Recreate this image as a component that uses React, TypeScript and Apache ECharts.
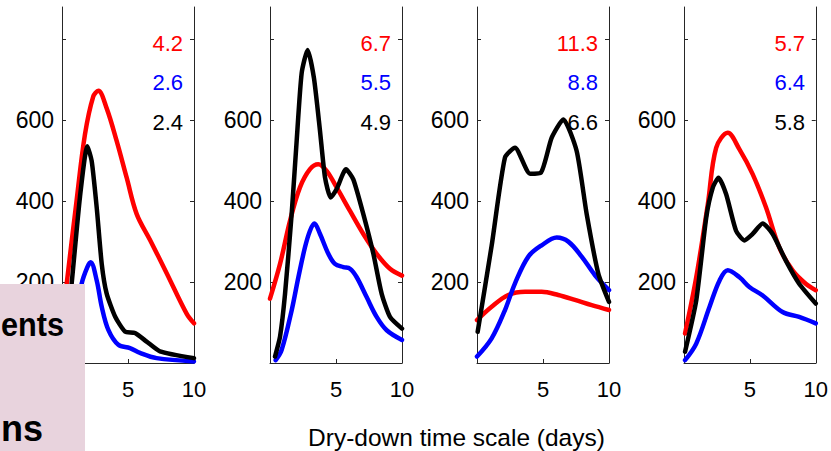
import React, { useEffect, useRef } from "react";
import * as echarts from "echarts";

// ---- tick labels ----
const xTickLabels = [5, 10];
const yTickLabels = [200, 400, 600];
const yTickValues = [0, 200, 400, 600, 800];

// ---- numbers printed in the top-right corner of each panel ----
const redNumbers = ["4.2", "6.7", "11.3", "5.7"];
const blueNumbers = ["2.6", "5.5", "8.8", "6.4"];
const blackNumbers = ["2.4", "4.9", "6.6", "5.8"];

// ---- texts ----
const xTitle = "Dry-down time scale (days)";
const boxTexts = ["ents", "ns"];

// ---- series: [day, value] ----
const p1Red = [[0, 90], [0.36, 197], [1.1, 400], [1.74, 565], [2.37, 659], [2.75, 673], [3.38, 630], [4.14, 549], [4.9, 458], [5.66, 368], [6.67, 304], [7.93, 222], [9.44, 122], [10, 98]];
const p1Blue = [[0.3, 20], [1.0, 100], [1.49, 196], [1.92, 237], [2.17, 249], [2.63, 204], [3.01, 139], [3.51, 82], [4.27, 45], [5.15, 37], [5.91, 25], [7.17, 12], [10, 4]];
const p1Black = [[0.2, 30], [0.73, 196], [1.36, 410], [1.92, 536], [2.25, 499], [2.63, 384], [3.01, 245], [3.38, 172], [4.02, 115], [4.77, 78], [5.53, 74], [6.41, 53], [7.42, 29], [10, 12]];

const p2Red = [[0, 159], [0.76, 245], [1.52, 352], [2.27, 434], [3.03, 479], [3.66, 491], [4.29, 475], [5.05, 434], [6.06, 376], [7.07, 319], [8.08, 270], [9.09, 233], [10, 216]];
const p2Blue = [[0.43, 7], [0.88, 32], [1.64, 130], [2.15, 212], [2.65, 286], [3.03, 327], [3.36, 345], [3.79, 319], [4.42, 270], [4.92, 245], [5.56, 237], [6.06, 233], [6.57, 212], [7.32, 163], [8.08, 114], [8.84, 81], [10, 57]];
const p2Black = [[0.38, 16], [0.76, 65], [1.14, 171], [1.64, 368], [2.02, 549], [2.4, 717], [2.85, 774], [3.33, 704], [3.79, 573], [4.17, 458], [4.6, 409], [5.05, 430], [5.76, 479], [6.31, 454], [7.07, 368], [7.83, 270], [8.46, 171], [9.09, 114], [10, 85]];

const p3Red = [[0, 106], [1.11, 139], [2.37, 168], [3.64, 176], [4.9, 176], [6.16, 168], [7.42, 156], [8.69, 143], [10, 131]];
const p3Blue = [[0, 16], [1.11, 61], [2.12, 131], [2.88, 197], [3.89, 263], [4.9, 291], [6.04, 310], [6.92, 300], [7.93, 263], [8.94, 217], [10, 180]];
const p3Black = [[0.05, 77], [1.11, 290], [2.12, 508], [2.88, 532], [4.02, 468], [4.85, 471], [5.66, 557], [6.54, 602], [7.55, 524], [8.31, 368], [9.19, 221], [10, 151]];

const p4Red = [[0.08, 73], [0.93, 212], [1.81, 393], [2.44, 532], [3.32, 569], [4.21, 528], [5.21, 467], [6.22, 385], [7.23, 286], [8.24, 229], [9.24, 196], [10, 180]];
const p4Blue = [[0.08, 7], [0.93, 48], [1.94, 139], [2.7, 204], [3.32, 229], [4.21, 212], [4.96, 188], [5.97, 167], [7.48, 126], [8.74, 114], [10, 98]];
const p4Black = [[0.08, 28], [0.93, 155], [1.69, 360], [2.19, 434], [2.62, 458], [3.2, 417], [3.95, 327], [4.58, 303], [5.21, 319], [5.97, 345], [6.73, 319], [7.73, 253], [8.74, 196], [10, 147]];

const panels = [
  { red: p1Red, blue: p1Blue, black: p1Black },
  { red: p2Red, blue: p2Blue, black: p2Black },
  { red: p3Red, blue: p3Blue, black: p3Black },
  { red: p4Red, blue: p4Blue, black: p4Black },
];

// ---- layout ----
const W = 831;
const H = 451;
const gridLefts = [62, 270, 477, 684];
const gridWidth = 132;
const gridTop = 7;
const gridHeight = 356;
const FONT = '"Liberation Sans", Arial, Helvetica, sans-serif';
const AXIS_COLOR = "#262626";
const RED = "#ff0000";
const BLUE = "#0000ff";
const BLACK = "#000000";

export default function App() {
  const ref = useRef<HTMLDivElement>(null);

  useEffect(() => {
    if (!ref.current) return;
    const chart = echarts.init(ref.current, null, { renderer: "svg" });

    const grids = gridLefts.map((left) => ({
      left,
      top: gridTop,
      width: gridWidth,
      height: gridHeight,
      containLabel: false,
    }));

    const xAxes = gridLefts.map((_, i) => ({
      gridIndex: i,
      type: "value",
      min: 0,
      max: 10,
      interval: 5,
      axisLine: { show: true, onZero: false, lineStyle: { color: AXIS_COLOR, width: 1 } },
      axisTick: { show: true, inside: true, length: 4, lineStyle: { color: AXIS_COLOR } },
      axisLabel: {
        show: true,
        margin: 15,
        fontSize: 22,
        fontFamily: FONT,
        color: "#000",
        formatter: (v: number) => (xTickLabels.includes(v) ? String(v) : ""),
      },
      splitLine: { show: false },
    }));

    const yAxes: any[] = [];
    gridLefts.forEach((_, i) => {
      yAxes.push({
        gridIndex: i,
        type: "value",
        position: "left",
        min: 0,
        max: 880,
        interval: 200,
        axisLine: { show: true, onZero: false, lineStyle: { color: AXIS_COLOR, width: 1 } },
        axisTick: { show: true, inside: true, length: 4, customValues: yTickValues, lineStyle: { color: AXIS_COLOR } },
        axisLabel: {
          show: true,
          margin: 8,
          fontSize: 23,
          fontFamily: FONT,
          color: "#000",
          padding: [5, 0, 0, 0],
          customValues: yTickLabels,
          formatter: (v: number) => (yTickLabels.includes(v) ? String(v) : ""),
        },
        splitLine: { show: false },
      });
      yAxes.push({
        gridIndex: i,
        type: "value",
        position: "right",
        min: 0,
        max: 880,
        interval: 200,
        axisLine: { show: true, onZero: false, lineStyle: { color: AXIS_COLOR, width: 1 } },
        axisTick: { show: true, inside: true, length: 4, customValues: yTickValues, lineStyle: { color: AXIS_COLOR } },
        axisLabel: { show: false },
        splitLine: { show: false },
      });
    });

    const series: any[] = [];
    panels.forEach((p, i) => {
      const mk = (data: number[][], color: string, smooth: number, z: number) => ({
        type: "line",
        xAxisIndex: i,
        yAxisIndex: 2 * i,
        data,
        symbol: "none",
        showSymbol: false,
        smooth,
        clip: true,
        z,
        lineStyle: { color, width: 4.5, cap: "round", join: "round" },
        emphasis: { disabled: true },
      });
      series.push(mk(p.red, RED, 0.35, 2));
      series.push(mk(p.blue, BLUE, 0.35, 3));
      series.push(mk(p.black, BLACK, 0.2, 4));
    });

    const numberYs = [43, 82.5, 122.5];
    const graphics: any[] = [];
    gridLefts.forEach((left, i) => {
      const right = left + gridWidth - 11;
      [
        [redNumbers[i], RED],
        [blueNumbers[i], BLUE],
        [blackNumbers[i], BLACK],
      ].forEach(([txt, col], k) => {
        graphics.push({
          type: "text",
          x: right,
          y: numberYs[k],
          z: 1,
          style: {
            text: txt,
            fill: col,
            font: `22px ${FONT}`,
            textAlign: "right",
            verticalAlign: "middle",
          },
        });
      });
    });

    graphics.push({
      type: "text",
      x: 456.5,
      y: 437.5,
      style: {
        text: xTitle,
        fill: "#000",
        font: `24.5px ${FONT}`,
        textAlign: "center",
        verticalAlign: "middle",
      },
    });

    graphics.push({
      type: "rect",
      z: 100,
      shape: { x: 0, y: 284, width: 85, height: H - 284 },
      style: { fill: "#e8d3dd" },
    });
    graphics.push({
      type: "text",
      z: 101,
      x: 1,
      y: 325,
      scaleX: 0.93,
      style: {
        text: boxTexts[0],
        fill: "#000",
        font: `bold 33px ${FONT}`,
        textAlign: "left",
        verticalAlign: "middle",
      },
    });
    graphics.push({
      type: "text",
      z: 101,
      x: 1,
      y: 428.5,
      style: {
        text: boxTexts[1],
        fill: "#000",
        font: `bold 36px ${FONT}`,
        textAlign: "left",
        verticalAlign: "middle",
      },
    });

    chart.setOption({
      animation: false,
      backgroundColor: "#ffffff",
      grid: grids,
      xAxis: xAxes,
      yAxis: yAxes,
      series,
      graphic: { elements: graphics },
    });

    return () => chart.dispose();
  }, []);

  return (
    <div
      ref={ref}
      style={{ position: "absolute", left: 0, top: 0, width: W, height: H }}
    />
  );
}
